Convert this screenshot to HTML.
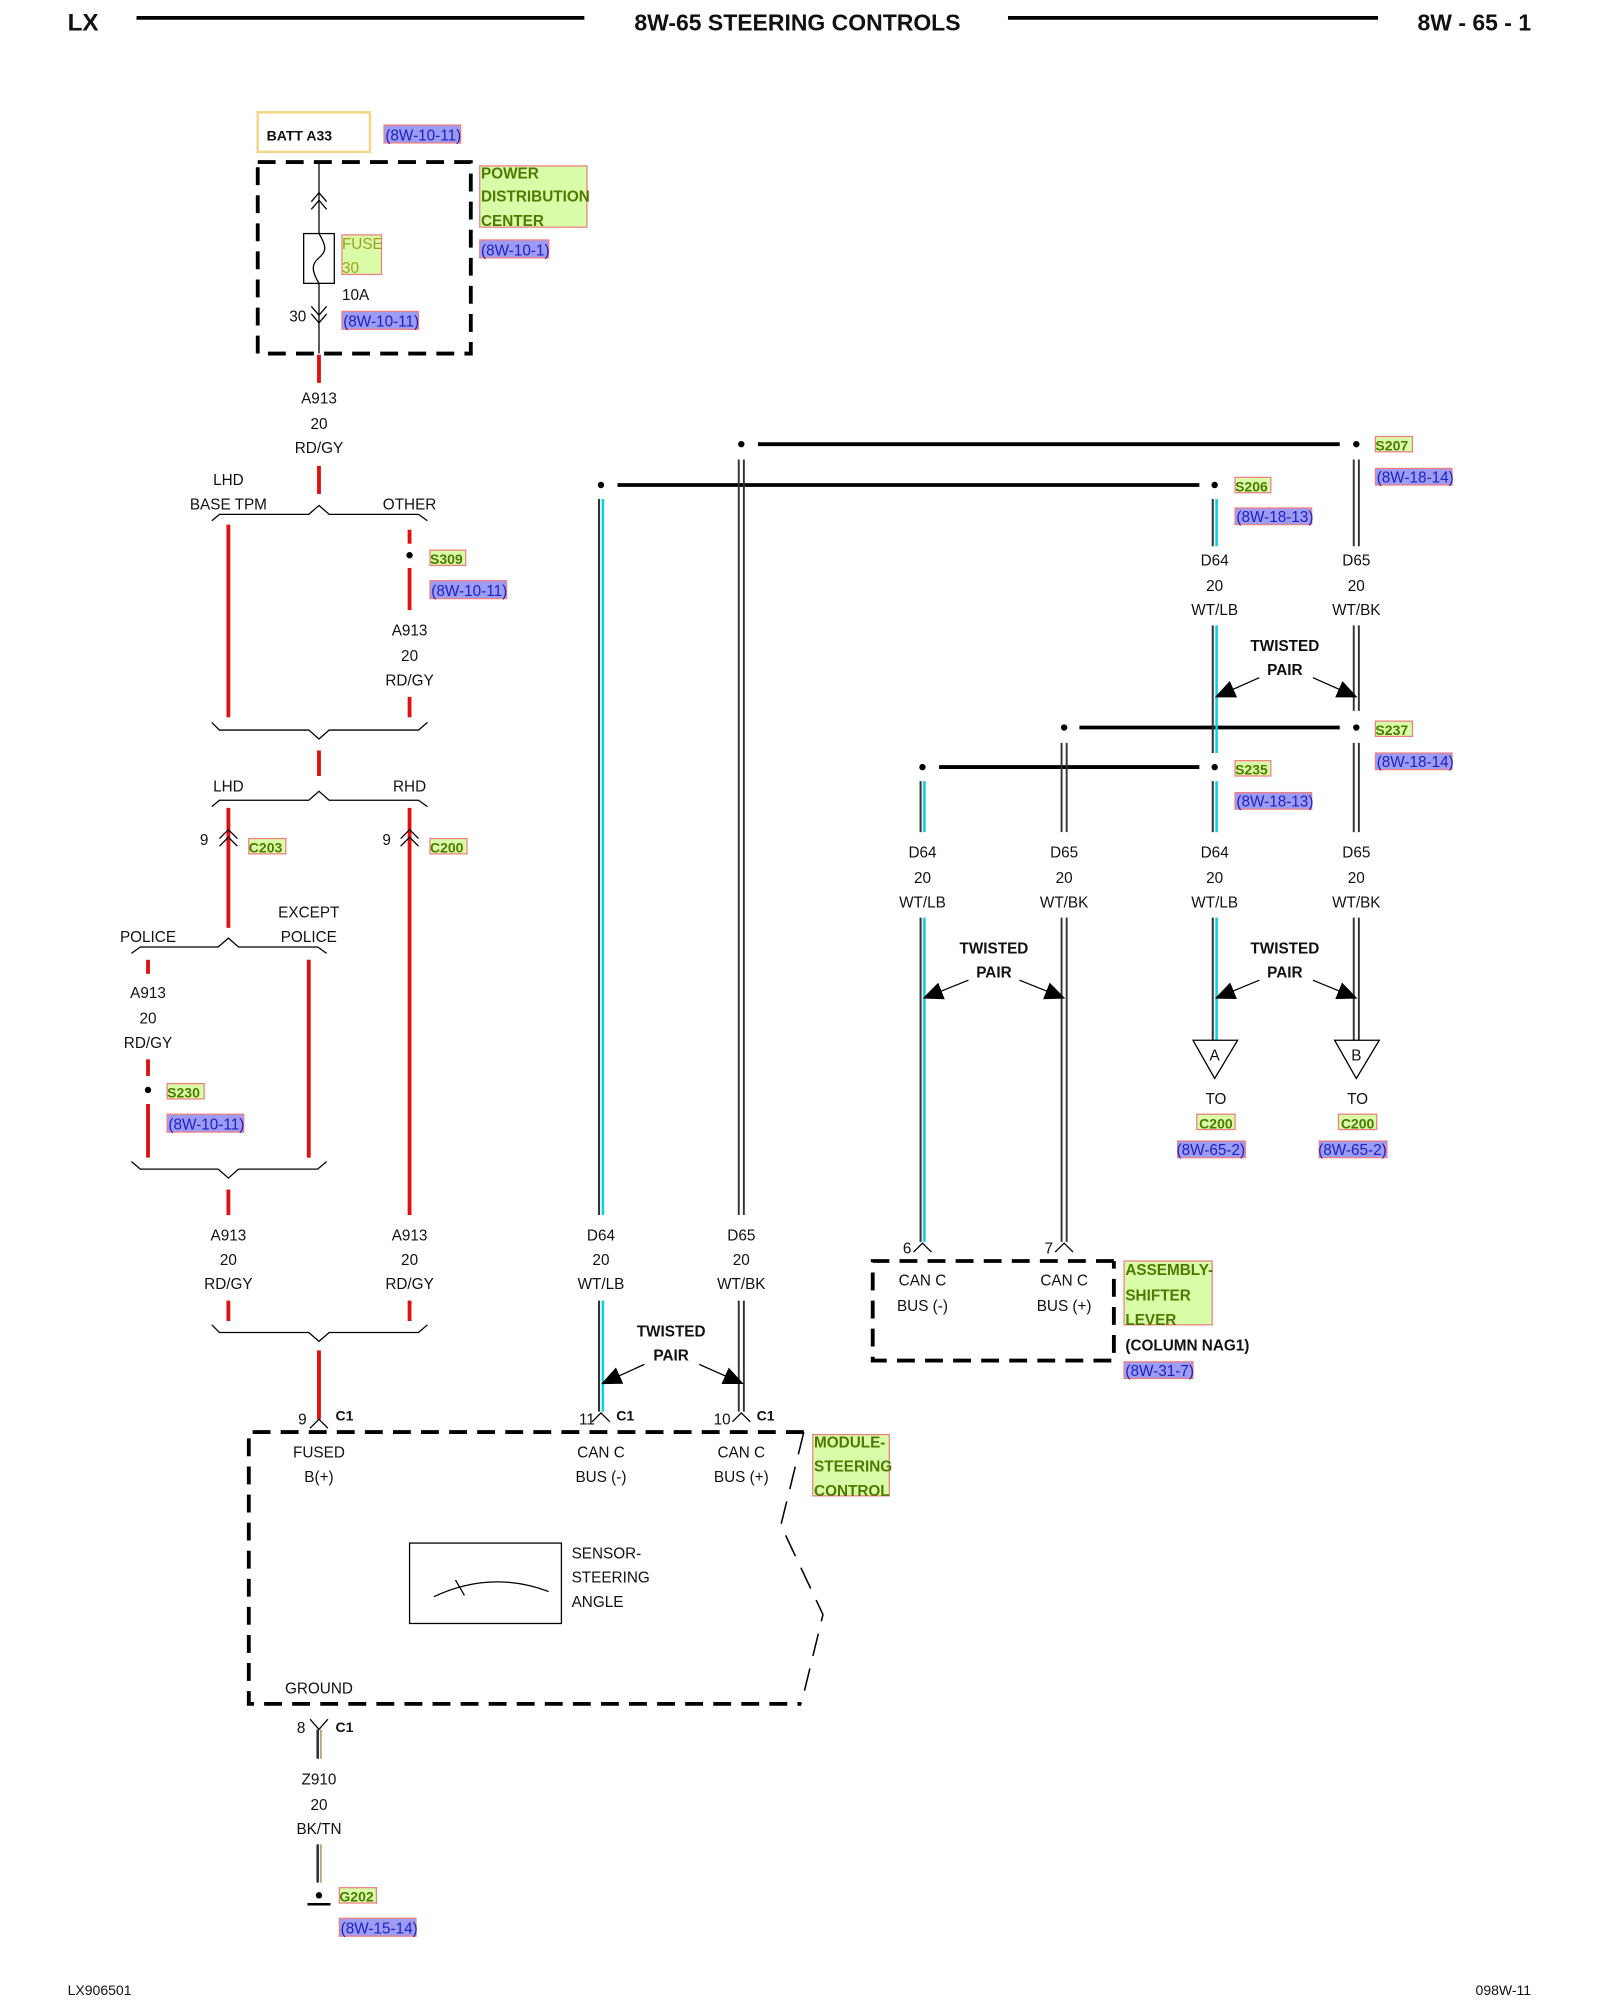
<!DOCTYPE html>
<html><head><meta charset="utf-8"><style>
html,body{margin:0;padding:0;background:#fff;}
svg{display:block}
text{font-family:"Liberation Sans",sans-serif;font-size:12px;fill:#111}
.c{text-anchor:middle}
.b{font-weight:bold}
.lb{fill:#4d7a00;font-weight:bold;font-size:12px}
.rf{fill:#2020c0;font-size:12px}
.red{stroke:#e01010;stroke-width:3;fill:none}
.k{stroke:#000;fill:none}
.dash{stroke:#000;stroke-width:3;fill:none;stroke-dasharray:14,8}
</style></head><body>
<svg width="1600" height="2000" viewBox="0 0 1254 1567" preserveAspectRatio="none" xmlns="http://www.w3.org/2000/svg">
<defs>
<marker id="ah" markerWidth="16" markerHeight="14" refX="15" refY="7" orient="auto" markerUnits="userSpaceOnUse"><path d="M0,0 L16,7 L0,14 z" fill="#000"/></marker>
</defs>
<!-- header -->
<text x="53" y="24" class="b" style="font-size:19px">LX</text>
<line x1="107" y1="14" x2="458" y2="14" stroke="#000" stroke-width="3"/>
<text x="625" y="24" class="b c" style="font-size:18px">8W-65 STEERING CONTROLS</text>
<line x1="790" y1="14" x2="1080" y2="14" stroke="#000" stroke-width="3"/>
<text x="1200" y="24" class="b" style="font-size:18px;text-anchor:end">8W - 65 - 1</text>
<text x="53" y="1563" style="font-size:11px">LX906501</text>
<text x="1200" y="1563" style="font-size:11px;text-anchor:end">098W-11</text>

<!-- BATT / PDC -->
<rect x="202" y="88" width="88" height="31" fill="none" stroke="#f5d78a" stroke-width="2"/>
<text x="209" y="110" class="b" style="font-size:11px">BATT A33</text>
<rect x="301" y="98" width="60" height="14" fill="#9c9cf5" stroke="#f08080"/>
<text x="302" y="110" class="rf">(8W-10-11)</text>
<rect x="202" y="127" width="167" height="150" class="dash"/>
<line x1="250" y1="127" x2="250" y2="277" class="k"/>
<path d="M244,158 L250,151 L256,158 M244,164 L250,157 L256,164" class="k"/>
<path d="M244,240 L250,247 L256,240 M244,246 L250,253 L256,246" class="k"/>
<rect x="238" y="183" width="24" height="39" fill="#fff" stroke="#000"/>
<path d="M250,183 C256,193 256,197 250,202 C244,207 244,212 250,222" class="k"/>
<rect x="268" y="184" width="31" height="31" fill="#d8fca8" stroke="#f08080"/>
<text x="268" y="195" style="fill:#a0a020">FUSE</text>
<text x="268" y="214" style="fill:#a0a020">30</text>
<text x="268" y="235">10A</text>
<text x="240" y="252" style="text-anchor:end">30</text>
<rect x="268" y="244" width="60" height="14" fill="#9c9cf5" stroke="#f08080"/>
<text x="269" y="256" class="rf">(8W-10-11)</text>
<rect x="376" y="130" width="84" height="48" fill="#d8fca8" stroke="#f08080"/>
<text x="377" y="140" class="lb">POWER</text>
<text x="377" y="158" class="lb">DISTRIBUTION</text>
<text x="377" y="177" class="lb">CENTER</text>
<rect x="376" y="188" width="54" height="14" fill="#9c9cf5" stroke="#f08080"/>
<text x="377" y="200" class="rf">(8W-10-1)</text>

<!-- A913 main -->
<line x1="250" y1="278" x2="250" y2="300" class="red"/>
<text x="250" y="316" class="c">A913</text><text x="250" y="336" class="c">20</text><text x="250" y="355" class="c">RD/GY</text>
<line x1="250" y1="365" x2="250" y2="387" class="red"/>
<path d="M166,408 L172,403 L242,403 L250,396 L258,403 L328,403 L335,408" class="k"/>
<text x="179" y="380" class="c">LHD</text><text x="179" y="399" class="c">BASE TPM</text><text x="321" y="399" class="c">OTHER</text>
<line x1="179" y1="411" x2="179" y2="562" class="red"/>
<line x1="321" y1="415" x2="321" y2="426" class="red"/>
<circle cx="321" cy="435" r="2.5"/>
<rect x="337" y="431" width="28" height="12" fill="#d8fca8" stroke="#f08080"/><text x="337" y="442" class="lb" style="font-size:11px">S309</text>
<rect x="337" y="455" width="60" height="14" fill="#9c9cf5" stroke="#f08080"/><text x="338" y="467" class="rf">(8W-10-11)</text>
<line x1="321" y1="445" x2="321" y2="478" class="red"/>
<text x="321" y="498" class="c">A913</text><text x="321" y="518" class="c">20</text><text x="321" y="537" class="c">RD/GY</text>
<line x1="321" y1="546" x2="321" y2="562" class="red"/>
<path d="M166,566 L172,572 L242,572 L250,579 L258,572 L328,572 L335,566" class="k"/>
<line x1="250" y1="588" x2="250" y2="608" class="red"/>
<path d="M166,632 L172,627 L242,627 L250,620 L258,627 L328,627 L335,632" class="k"/>
<text x="179" y="620" class="c">LHD</text><text x="321" y="620" class="c">RHD</text>
<line x1="179" y1="633" x2="179" y2="727" class="red"/>
<path d="M172,657 L179,650 L186,657 M172,663 L179,656 L186,663" class="k"/>
<text x="160" y="662" class="c">9</text>
<rect x="195" y="657" width="29" height="12" fill="#d8fca8" stroke="#f08080"/><text x="195" y="668" class="lb" style="font-size:11px">C203</text>
<line x1="321" y1="633" x2="321" y2="952" class="red"/>
<path d="M314,657 L321,650 L328,657 M314,663 L321,656 L328,663" class="k"/>
<text x="303" y="662" class="c">9</text>
<rect x="337" y="657" width="29" height="12" fill="#d8fca8" stroke="#f08080"/><text x="337" y="668" class="lb" style="font-size:11px">C200</text>
<path d="M103,747 L110,742 L171,742 L179,735 L187,742 L249,742 L256,747" class="k"/>
<text x="116" y="738" class="c">POLICE</text><text x="242" y="719" class="c">EXCEPT</text><text x="242" y="738" class="c">POLICE</text>
<line x1="116" y1="752" x2="116" y2="763" class="red"/>
<text x="116" y="782" class="c">A913</text><text x="116" y="802" class="c">20</text><text x="116" y="821" class="c">RD/GY</text>
<line x1="116" y1="830" x2="116" y2="843" class="red"/>
<circle cx="116" cy="854" r="2.5"/>
<rect x="131" y="849" width="29" height="12" fill="#d8fca8" stroke="#f08080"/><text x="131" y="860" class="lb" style="font-size:11px">S230</text>
<rect x="131" y="873" width="60" height="14" fill="#9c9cf5" stroke="#f08080"/><text x="132" y="885" class="rf">(8W-10-11)</text>
<line x1="116" y1="865" x2="116" y2="907" class="red"/>
<line x1="242" y1="752" x2="242" y2="907" class="red"/>
<path d="M103,910 L110,916 L171,916 L179,923 L187,916 L249,916 L256,910" class="k"/>
<line x1="179" y1="932" x2="179" y2="952" class="red"/>
<text x="179" y="972" class="c">A913</text><text x="179" y="991" class="c">20</text><text x="179" y="1010" class="c">RD/GY</text>
<line x1="179" y1="1019" x2="179" y2="1035" class="red"/>
<text x="321" y="972" class="c">A913</text><text x="321" y="991" class="c">20</text><text x="321" y="1010" class="c">RD/GY</text>
<line x1="321" y1="1019" x2="321" y2="1035" class="red"/>
<path d="M166,1038 L172,1044 L242,1044 L250,1051 L258,1044 L328,1044 L335,1038" class="k"/>
<line x1="250" y1="1058" x2="250" y2="1112" class="red"/>
<path d="M243,1119 L250,1112 L257,1119" class="k"/>
<text x="237" y="1116" class="c">9</text><text x="263" y="1113" class="b" style="font-size:11px">C1</text>

<!-- module -->
<path d="M630,1122 L195,1122 L195,1335 L628,1335" class="dash"/>
<path d="M630,1122 L612,1195 L645,1265 L628,1335" fill="none" stroke="#000" stroke-width="1.2" stroke-dasharray="18,10"/>
<text x="250" y="1142" class="c">FUSED</text><text x="250" y="1161" class="c">B(+)</text>
<text x="471" y="1142" class="c">CAN C</text><text x="471" y="1161" class="c">BUS (-)</text>
<text x="581" y="1142" class="c">CAN C</text><text x="581" y="1161" class="c">BUS (+)</text>
<rect x="637" y="1124" width="60" height="48" fill="#d8fca8" stroke="#f08080"/>
<text x="638" y="1134" class="lb">MODULE-</text><text x="638" y="1153" class="lb">STEERING</text><text x="638" y="1172" class="lb">CONTROL</text>
<rect x="321" y="1209" width="119" height="63" fill="none" stroke="#000"/>
<path d="M340,1251 Q385,1230 430,1247" class="k"/>
<line x1="357" y1="1238" x2="364" y2="1250" class="k"/>
<text x="448" y="1221">SENSOR-</text><text x="448" y="1240">STEERING</text><text x="448" y="1259">ANGLE</text>
<text x="250" y="1327" class="c">GROUND</text>
<path d="M243,1347 L250,1355 L257,1347" class="k"/>
<text x="236" y="1358" class="c">8</text><text x="263" y="1357" class="b" style="font-size:11px">C1</text>
<line x1="249" y1="1355" x2="249" y2="1378" stroke="#333" stroke-width="2"/><line x1="251.5" y1="1355" x2="251.5" y2="1378" stroke="#b8a878" stroke-width="1.5"/>
<text x="250" y="1398" class="c">Z910</text><text x="250" y="1418" class="c">20</text><text x="250" y="1437" class="c">BK/TN</text>
<line x1="249" y1="1445" x2="249" y2="1475" stroke="#333" stroke-width="2"/><line x1="251.5" y1="1445" x2="251.5" y2="1475" stroke="#b8a878" stroke-width="1.5"/>
<circle cx="250" cy="1485" r="2.5"/>
<line x1="241" y1="1492" x2="259" y2="1492" stroke="#000" stroke-width="2"/>
<rect x="266" y="1479" width="29" height="12" fill="#d8fca8" stroke="#f08080"/><text x="266" y="1490" class="lb" style="font-size:11px">G202</text>
<rect x="266" y="1503" width="60" height="14" fill="#9c9cf5" stroke="#f08080"/><text x="267" y="1515" class="rf">(8W-15-14)</text>

<!-- CAN bus horizontals -->
<circle cx="581" cy="348" r="2.5"/><line x1="594" y1="348" x2="1050" y2="348" stroke="#000" stroke-width="3"/><circle cx="1063" cy="348" r="2.5"/>
<circle cx="471" cy="380" r="2.5"/><line x1="484" y1="380" x2="940" y2="380" stroke="#000" stroke-width="3"/><circle cx="952" cy="380" r="2.5"/>
<circle cx="834" cy="570" r="2.5"/><line x1="846" y1="570" x2="1050" y2="570" stroke="#000" stroke-width="3"/><circle cx="1063" cy="570" r="2.5"/>
<circle cx="723" cy="601" r="2.5"/><line x1="736" y1="601" x2="940" y2="601" stroke="#000" stroke-width="3"/><circle cx="952" cy="601" r="2.5"/>

<g stroke-width="1.6">
<line x1="469.5" y1="391" x2="469.5" y2="952" stroke="#333"/><line x1="472.5" y1="391" x2="472.5" y2="952" stroke="#10d0e0" stroke-width="2"/>
<line x1="469.5" y1="1019" x2="469.5" y2="1106" stroke="#333"/><line x1="472.5" y1="1019" x2="472.5" y2="1106" stroke="#10d0e0" stroke-width="2"/>
<line x1="950.5" y1="391" x2="950.5" y2="428" stroke="#333"/><line x1="953.5" y1="391" x2="953.5" y2="428" stroke="#10d0e0" stroke-width="2"/>
<line x1="950.5" y1="490" x2="950.5" y2="590" stroke="#333"/><line x1="953.5" y1="490" x2="953.5" y2="590" stroke="#10d0e0" stroke-width="2"/>
<line x1="950.5" y1="612" x2="950.5" y2="652" stroke="#333"/><line x1="953.5" y1="612" x2="953.5" y2="652" stroke="#10d0e0" stroke-width="2"/>
<line x1="950.5" y1="719" x2="950.5" y2="815" stroke="#333"/><line x1="953.5" y1="719" x2="953.5" y2="815" stroke="#10d0e0" stroke-width="2"/>
<line x1="721.5" y1="612" x2="721.5" y2="652" stroke="#333"/><line x1="724.5" y1="612" x2="724.5" y2="652" stroke="#10d0e0" stroke-width="2"/>
<line x1="721.5" y1="719" x2="721.5" y2="973" stroke="#333"/><line x1="724.5" y1="719" x2="724.5" y2="973" stroke="#10d0e0" stroke-width="2"/>
</g>
<g stroke="#333" stroke-width="1.5">
<line x1="579" y1="360" x2="579" y2="952"/><line x1="583" y1="360" x2="583" y2="952"/>
<line x1="579" y1="1019" x2="579" y2="1106"/><line x1="583" y1="1019" x2="583" y2="1106"/>
<line x1="1061" y1="360" x2="1061" y2="428"/><line x1="1065" y1="360" x2="1065" y2="428"/>
<line x1="1061" y1="490" x2="1061" y2="557"/><line x1="1065" y1="490" x2="1065" y2="557"/>
<line x1="1061" y1="582" x2="1061" y2="652"/><line x1="1065" y1="582" x2="1065" y2="652"/>
<line x1="1061" y1="719" x2="1061" y2="815"/><line x1="1065" y1="719" x2="1065" y2="815"/>
<line x1="832" y1="582" x2="832" y2="652"/><line x1="836" y1="582" x2="836" y2="652"/>
<line x1="832" y1="719" x2="832" y2="973"/><line x1="836" y1="719" x2="836" y2="973"/>
</g>

<text x="471" y="972" class="c">D64</text><text x="471" y="991" class="c">20</text><text x="471" y="1010" class="c">WT/LB</text>
<text x="581" y="972" class="c">D65</text><text x="581" y="991" class="c">20</text><text x="581" y="1010" class="c">WT/BK</text>
<text x="952" y="443" class="c">D64</text><text x="952" y="463" class="c">20</text><text x="952" y="482" class="c">WT/LB</text>
<text x="1063" y="443" class="c">D65</text><text x="1063" y="463" class="c">20</text><text x="1063" y="482" class="c">WT/BK</text>
<text x="723" y="672" class="c">D64</text><text x="723" y="692" class="c">20</text><text x="723" y="711" class="c">WT/LB</text>
<text x="834" y="672" class="c">D65</text><text x="834" y="692" class="c">20</text><text x="834" y="711" class="c">WT/BK</text>
<text x="952" y="672" class="c">D64</text><text x="952" y="692" class="c">20</text><text x="952" y="711" class="c">WT/LB</text>
<text x="1063" y="672" class="c">D65</text><text x="1063" y="692" class="c">20</text><text x="1063" y="711" class="c">WT/BK</text>

<rect x="1078" y="342" width="29" height="12" fill="#d8fca8" stroke="#f08080"/><text x="1078" y="353" class="lb" style="font-size:11px">S207</text>
<rect x="1078" y="367" width="60" height="13" fill="#9c9cf5" stroke="#f08080"/><text x="1079" y="378" class="rf">(8W-18-14)</text>
<rect x="968" y="374" width="28" height="12" fill="#d8fca8" stroke="#f08080"/><text x="968" y="385" class="lb" style="font-size:11px">S206</text>
<rect x="968" y="398" width="60" height="13" fill="#9c9cf5" stroke="#f08080"/><text x="969" y="409" class="rf">(8W-18-13)</text>
<rect x="1078" y="565" width="29" height="12" fill="#d8fca8" stroke="#f08080"/><text x="1078" y="576" class="lb" style="font-size:11px">S237</text>
<rect x="1078" y="590" width="60" height="13" fill="#9c9cf5" stroke="#f08080"/><text x="1079" y="601" class="rf">(8W-18-14)</text>
<rect x="968" y="596" width="28" height="12" fill="#d8fca8" stroke="#f08080"/><text x="968" y="607" class="lb" style="font-size:11px">S235</text>
<rect x="968" y="621" width="60" height="13" fill="#9c9cf5" stroke="#f08080"/><text x="969" y="632" class="rf">(8W-18-13)</text>

<text x="1007" y="510" class="b c">TWISTED</text><text x="1007" y="529" class="b c">PAIR</text>
<text x="779" y="747" class="b c">TWISTED</text><text x="779" y="766" class="b c">PAIR</text>
<text x="1007" y="747" class="b c">TWISTED</text><text x="1007" y="766" class="b c">PAIR</text>
<text x="526" y="1047" class="b c">TWISTED</text><text x="526" y="1066" class="b c">PAIR</text>
<g stroke="#000" stroke-width="1" marker-end="url(#ah)">
<line x1="987" y1="531" x2="953" y2="546"/><line x1="1029" y1="531" x2="1063" y2="546"/>
<line x1="759" y1="768" x2="724" y2="782"/><line x1="799" y1="768" x2="834" y2="782"/>
<line x1="987" y1="768" x2="953" y2="782"/><line x1="1029" y1="768" x2="1063" y2="782"/>
<line x1="505" y1="1069" x2="472" y2="1084"/><line x1="548" y1="1069" x2="582" y2="1084"/>
</g>

<path d="M464,1114 L471,1107 L478,1114" class="k"/><text x="460" y="1116" class="c">11</text><text x="483" y="1113" class="b" style="font-size:11px">C1</text>
<path d="M574,1114 L581,1107 L588,1114" class="k"/><text x="566" y="1116" class="c">10</text><text x="593" y="1113" class="b" style="font-size:11px">C1</text>

<path d="M935,815 L970,815 L952,845 Z" fill="#fff" stroke="#000"/><text x="952" y="831" class="c">A</text>
<path d="M1046,815 L1081,815 L1063,845 Z" fill="#fff" stroke="#000"/><text x="1063" y="831" class="c">B</text>
<text x="953" y="865" class="c">TO</text><text x="1064" y="865" class="c">TO</text>
<rect x="938" y="873" width="30" height="12" fill="#d8fca8" stroke="#f08080"/><text x="953" y="884" class="lb c" style="font-size:11px">C200</text>
<rect x="1049" y="873" width="30" height="12" fill="#d8fca8" stroke="#f08080"/><text x="1064" y="884" class="lb c" style="font-size:11px">C200</text>
<rect x="923" y="894" width="53" height="13" fill="#9c9cf5" stroke="#f08080"/><text x="949" y="905" class="rf c">(8W-65-2)</text>
<rect x="1034" y="894" width="53" height="13" fill="#9c9cf5" stroke="#f08080"/><text x="1060" y="905" class="rf c">(8W-65-2)</text>

<path d="M716,981 L723,974 L730,981" class="k"/><text x="711" y="982" class="c">6</text>
<path d="M827,981 L834,974 L841,981" class="k"/><text x="822" y="982" class="c">7</text>
<path d="M873,988 L684,988 L684,1066 L873,1066 L873,988" class="dash"/>
<text x="723" y="1007" class="c">CAN C</text><text x="723" y="1027" class="c">BUS (-)</text>
<text x="834" y="1007" class="c">CAN C</text><text x="834" y="1027" class="c">BUS (+)</text>
<rect x="881" y="988" width="69" height="50" fill="#d8fca8" stroke="#f08080"/>
<text x="882" y="999" class="lb">ASSEMBLY-</text><text x="882" y="1019" class="lb">SHIFTER</text><text x="882" y="1038" class="lb">LEVER</text>
<text x="882" y="1058" class="b">(COLUMN NAG1)</text>
<rect x="881" y="1067" width="54" height="13" fill="#9c9cf5" stroke="#f08080"/><text x="882" y="1078" class="rf">(8W-31-7)</text>
</svg>
</body></html>
